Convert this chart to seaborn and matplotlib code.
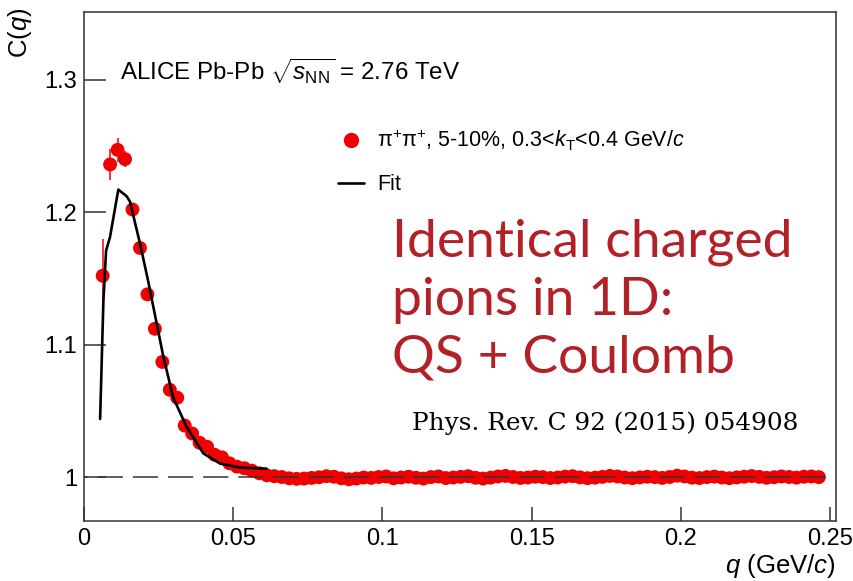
import matplotlib
matplotlib.use("Agg")
import matplotlib.pyplot as plt
from matplotlib.lines import Line2D
import pandas as pd
import seaborn as sns

# Correlation function C(q) for pi+pi+ pairs, bin centres in q (GeV/c)
q = [
    0.00625, 0.00875, 0.01125, 0.01375, 0.01625, 0.01875, 0.02125, 0.02375, 0.02625, 0.02875,
    0.03125, 0.03375, 0.03625, 0.03875, 0.04125, 0.04375, 0.04625, 0.04875, 0.05125, 0.05375,
    0.05625, 0.05875, 0.06125, 0.06375, 0.06625, 0.06875, 0.07125, 0.07375, 0.07625, 0.07875,
    0.08125, 0.08375, 0.08625, 0.08875, 0.09125, 0.09375, 0.09625, 0.09875, 0.10125, 0.10375,
    0.10625, 0.10875, 0.11125, 0.11375, 0.11625, 0.11875, 0.12125, 0.12375, 0.12625, 0.12875,
    0.13125, 0.13375, 0.13625, 0.13875, 0.14125, 0.14375, 0.14625, 0.14875, 0.15125, 0.15375,
    0.15625, 0.15875, 0.16125, 0.16375, 0.16625, 0.16875, 0.17125, 0.17375, 0.17625, 0.17875,
    0.18125, 0.18375, 0.18625, 0.18875, 0.19125, 0.19375, 0.19625, 0.19875, 0.20125, 0.20375,
    0.20625, 0.20875, 0.21125, 0.21375, 0.21625, 0.21875, 0.22125, 0.22375, 0.22625, 0.22875,
    0.23125, 0.23375, 0.23625, 0.23875, 0.24125, 0.24375, 0.24625,
]
c_q = [
    1.152, 1.236, 1.247, 1.240, 1.202, 1.173, 1.138, 1.112, 1.087, 1.066,
    1.060, 1.039, 1.033, 1.026, 1.023, 1.017, 1.015, 1.0105, 1.008, 1.0068,
    1.005, 1.003, 1.0015, 1.0008, 1.0002, 0.9992, 0.9988, 0.9990, 0.9995, 1.0000,
    1.0008, 1.0004, 0.9992, 0.9985, 0.9990, 0.9998, 0.9995, 1.0002, 1.0006, 0.9992,
    0.9998, 1.0004, 0.9996, 0.9990, 1.0001, 1.0006, 0.9994, 0.9998, 1.0003, 1.0008,
    0.9996, 0.9990, 0.9997, 1.0006, 1.0010, 1.0002, 0.9995, 0.9998, 1.0004, 1.0001,
    0.9994, 0.9998, 1.0005, 1.0008, 0.9999, 0.9993, 0.9997, 1.0003, 1.0010, 1.0006,
    0.9998, 0.9993, 0.9999, 1.0004, 1.0001, 0.9995, 1.0002, 1.0012, 1.0006, 0.9997,
    0.9994, 1.0001, 1.0005, 0.9998, 0.9993, 0.9999, 1.0004, 1.0009, 1.0003, 0.9996,
    1.0000, 1.0006, 1.0002, 0.9997, 1.0004, 1.0006, 1.0001,
]
c_err = [
    0.028, 0.012, 0.009, 0.006, 0.005, 0.004, 0.004, 0.003, 0.003, 0.003,
    0.002, 0.002, 0.002, 0.002, 0.002, 0.002, 0.002, 0.002, 0.002, 0.002,
    0.002, 0.002, 0.002, 0.002, 0.002, 0.002, 0.002, 0.002, 0.002, 0.002,
    0.002, 0.002, 0.002, 0.002, 0.002, 0.002, 0.002, 0.002, 0.002, 0.002,
    0.002, 0.002, 0.002, 0.002, 0.002, 0.002, 0.002, 0.002, 0.002, 0.002,
    0.002, 0.002, 0.002, 0.002, 0.002, 0.002, 0.002, 0.002, 0.002, 0.002,
    0.002, 0.002, 0.002, 0.002, 0.002, 0.002, 0.002, 0.002, 0.002, 0.002,
    0.002, 0.002, 0.002, 0.002, 0.002, 0.002, 0.002, 0.002, 0.002, 0.002,
    0.002, 0.002, 0.002, 0.002, 0.002, 0.002, 0.002, 0.002, 0.002, 0.002,
    0.002, 0.002, 0.002, 0.002, 0.002, 0.002, 0.002,
]

# QS + Coulomb fit curve
q_fit = [0.0054, 0.0065, 0.0074, 0.0087, 0.0115, 0.0143, 0.0154, 0.0188, 0.0215,
         0.0240, 0.0265, 0.0299, 0.0344, 0.0400, 0.0456, 0.0523, 0.0612]
c_fit = [1.044, 1.133, 1.171, 1.181, 1.217, 1.212, 1.208, 1.176, 1.148,
         1.120, 1.092, 1.060, 1.038, 1.018, 1.0103, 1.0073, 1.0065]

baseline = 1.0
x_ticks = [0, 0.05, 0.1, 0.15, 0.2, 0.25]
x_tick_labels = ["0", "0.05", "0.1", "0.15", "0.2", "0.25"]
y_ticks = [1.0, 1.1, 1.2, 1.3]
y_tick_labels = ["1", "1.1", "1.2", "1.3"]

legend_labels = [r"π$^{+}$π$^{+}$, 5-10%, 0.3<$k_{\rm T}$<0.4 GeV/$c$", "Fit"]
headline = ["Identical charged", "pions in 1D:", "QS + Coulomb"]
reference = "Phys. Rev. C 92 (2015) 054908"

RED = "#f00000"
HEAD_RED = "#b22028"

sns.set_style("white")
plt.rcParams.update({
    "font.family": ["Liberation Sans", "DejaVu Sans"],
    "mathtext.fontset": "custom",
    "mathtext.rm": "Liberation Sans",
    "mathtext.it": "Liberation Sans:italic",
    "mathtext.bf": "Liberation Sans:bold",
    "axes.edgecolor": "#333333",
    "axes.linewidth": 1.1,
    "text.color": "black",
    "axes.labelcolor": "black",
    "xtick.color": "black",
    "ytick.color": "black",
})

W, H = 854, 581
fig = plt.figure(figsize=(W / 100, H / 100), dpi=100)
ax = fig.add_axes([84 / W, 60 / H, 752 / W, 509 / H])

df = pd.DataFrame({"q": q, "C": c_q, "err": c_err})
fit_df = pd.DataFrame({"q": q_fit, "C": c_fit})

ax.errorbar(df["q"], df["C"], yerr=df["err"], fmt="none", ecolor=RED,
            elinewidth=1.1, capsize=0, zorder=2)
sns.scatterplot(data=df, x="q", y="C", color=RED, s=100, edgecolor="none",
                linewidth=0, ax=ax, zorder=3, legend=False)
ax.axhline(baseline, color="#333333", lw=1.1,
           linestyle=(14, (16.5, 6.5)), zorder=4)
sns.lineplot(data=fit_df, x="q", y="C", color="black", lw=1.9, sort=False,
             estimator=None, ax=ax, zorder=5, legend=False)

ax.set_xlim(0, 0.252)
ax.set_ylim(0.967, 1.351)
ax.set_xticks(x_ticks)
ax.set_xticklabels(x_tick_labels)
ax.set_yticks(y_ticks)
ax.set_yticklabels(y_tick_labels)
ax.tick_params(axis="x", which="major", bottom=True, top=False, direction="in",
               length=10, width=1.1, color="#333333", labelcolor="black",
               labelsize=17, pad=5)
ax.tick_params(axis="y", which="major", left=True, right=False, direction="in",
               length=16, width=1.1, color="#333333", labelcolor="black",
               labelsize=17, pad=5)
for side in ("top", "right", "left", "bottom"):
    ax.spines[side].set_visible(True)

ax.set_xlabel(r"$q$ (GeV/$c$)", fontsize=18.5, loc="right")
ax.xaxis.set_label_coords(1.0, -0.06)
ax.set_ylabel(r"C($q$)", fontsize=18.5, loc="top")
ax.yaxis.set_label_coords(-0.067, 1.008)

handles = [
    Line2D([], [], marker="o", color=RED, ls="none", markersize=10),
    Line2D([], [], color="black", lw=1.9),
]
ax.legend(handles, legend_labels, loc="upper left", bbox_to_anchor=(0.338, 0.772),
          frameon=False, fontsize=15.5, handlelength=1.2, handletextpad=0.6,
          labelspacing=0.98, borderpad=0, borderaxespad=0)

fig.text(120 / W, 1 - 80 / H, r"ALICE Pb-Pb $\sqrt{s_{\rm NN}}$ = 2.76 TeV",
         fontsize=17.4, ha="left", va="baseline")

for line, base in zip(headline, [257, 315, 373]):
    fig.text(392 / W, 1 - base / H, line, fontsize=38.5, color=HEAD_RED,
             family=["Lato", "DejaVu Sans"], ha="left", va="baseline")

fig.text(412 / W, 1 - 430 / H, reference, fontsize=17.8,
         family=["DejaVu Serif", "Liberation Serif"], ha="left", va="baseline")

fig.savefig("out.png", dpi=100, facecolor="white")
